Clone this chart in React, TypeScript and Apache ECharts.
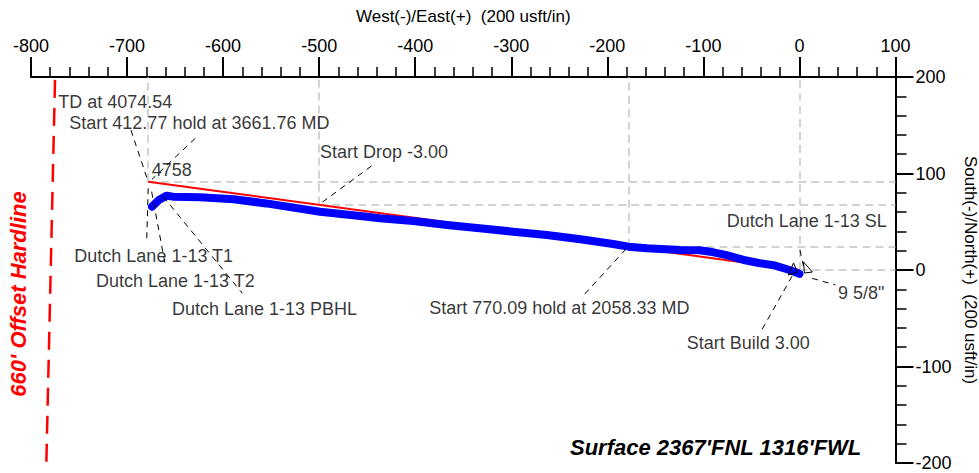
import React, { useEffect, useRef } from "react";
import * as echarts from "echarts";

const FONT = '"Liberation Sans", Arial, Helvetica, sans-serif';

// Plan (red) line: surface to TD
const planX = [0, -678];
const planY = [0, 91.5];

// Actual survey (blue) line
const surveyX = [0, -6, -12, -27, -41, -58, -76, -93, -104, -124, -159, -178, -194, -228, -263, -298, -333, -367, -402, -437, -450, -499, -555, -589, -624, -652, -659, -667, -674];
const surveyY = [-4, -1.5, 0.5, 5, 7, 10.4, 15.5, 19, 20.5, 20.7, 22.5, 24.2, 26.9, 31.8, 36.3, 39.7, 43.2, 46.6, 50.8, 53.6, 55.2, 60.4, 69, 73.3, 75.3, 76, 77, 72.5, 65.6];

// Key points projected (gray dashed) to the top and right axes
const projX = [-678, -500, -178, 0];
const projY = [91.5, 68, 24, 0];

// 660' offset hardline (red dashed)
const hardlineX = [-775, -784];
const hardlineY = [197, -199];

// Annotation texts and their anchor (left, middle) in data units
const labelTexts = [
  "TD at 4074.54",
  "Start 412.77 hold at 3661.76 MD",
  "4758",
  "Start Drop -3.00",
  "Dutch Lane 1-13 T1",
  "Dutch Lane 1-13 T2",
  "Dutch Lane 1-13 PBHL",
  "Start 770.09 hold at 2058.33 MD",
  "Start Build 3.00",
  "9 5/8\"",
  "Dutch Lane 1-13 SL",
];
const labelX = [-771.6, -760.1, -674.3, -499.1, -754.9, -732.3, -653.2, -385.4, -117.4, 40.1, -75.8];
const labelY = [174.4, 152.6, 103.6, 122.6, 14.5, -11.1, -40.7, -39.7, -75.6, -24.1, 51.1];

// Leader lines (start x, start y, end x, end y), data units
const leaderX1 = [-696, -629, -678, -674.4, -662.3, -445.5, -223.5, -38.8, 13.2, 0.5];
const leaderY1 = [145, 136.5, 84.7, 81.1, 76, 107.8, -24.9, -61.5, -8.6, 20.7];
const leaderX2 = [-678, -674, -679.6, -660.6, -580, -499.3, -178.4, -7.6, 37.5, 4.2];
const leaderY2 = [91.5, 94, 28.3, 7.3, -24.1, 68.4, 24.1, -6.2, -15.5, 4.1];

// Small target triangles near the surface location
const tri1X = [-11.4, -6.2, -2.1, -11.4];
const tri1Y = [-5.2, 7.3, -2.1, -5.2];
const tri2X = [4.2, 13.5, 5.2, 4.2];
const tri2Y = [8.3, -2.1, -3.1, 8.3];

const xName = "West(-)/East(+)  (200 usft/in)";
const yName = "South(-)/North(+)  (200 usft/in)";
const hardlineLabel = "660' Offset Hardline";
const surfaceLabel = "Surface 2367'FNL 1316'FWL";

const zip = (xs: number[], ys: number[]) => xs.map((x, i) => [x, ys[i]]);

export default function App() {
  const ref = useRef<HTMLDivElement>(null);

  useEffect(() => {
    if (!ref.current) return;
    const chart = echarts.init(ref.current, undefined, { renderer: "svg" });

    const projSegments: number[][][] = [];
    projX.forEach((x, i) => {
      projSegments.push([[x, projY[i]], [x, 200]]);
      projSegments.push([[x, projY[i]], [100, projY[i]]]);
    });
    const leaderSegments = leaderX1.map((x, i) => [
      [x, leaderY1[i]],
      [leaderX2[i], leaderY2[i]],
    ]);

    const option: any = {
      animation: false,
      backgroundColor: "#ffffff",
      textStyle: { fontFamily: FONT },
      grid: {
        left: 31,
        right: 83.5,
        top: 77,
        bottom: 10,
        containLabel: false,
        outerBoundsMode: "none",
      },
      xAxis: {
        type: "value",
        position: "top",
        min: -800,
        max: 100,
        interval: 100,
        name: xName,
        nameLocation: "middle",
        nameGap: 52,
        nameTextStyle: { fontSize: 17, color: "#000", fontFamily: FONT },
        axisLine: { show: true, onZero: false, lineStyle: { color: "#000", width: 2 } },
        axisTick: { show: true, inside: false, length: 20, lineStyle: { color: "#000", width: 2 } },
        minorTick: { show: true, splitNumber: 5, length: 10, lineStyle: { color: "#000", width: 1.5 } },
        axisLabel: { fontSize: 18, color: "#000", margin: 22, fontFamily: FONT },
        splitLine: { show: false },
        minorSplitLine: { show: false },
      },
      yAxis: {
        type: "value",
        position: "right",
        min: -200,
        max: 200,
        interval: 100,
        name: yName,
        nameLocation: "middle",
        nameGap: 66,
        nameRotate: -90,
        nameTextStyle: { fontSize: 17, color: "#000", fontFamily: FONT },
        axisLine: { show: true, onZero: false, lineStyle: { color: "#000", width: 2 } },
        axisTick: { show: true, inside: false, length: 18, lineStyle: { color: "#000", width: 2 } },
        minorTick: { show: true, splitNumber: 5, length: 11, lineStyle: { color: "#000", width: 1.5 } },
        axisLabel: { fontSize: 18, color: "#000", margin: 20, fontFamily: FONT },
        splitLine: { show: false },
        minorSplitLine: { show: false },
      },
      series: [
        {
          type: "lines",
          coordinateSystem: "cartesian2d",
          silent: true,
          z: 1,
          data: projSegments.map((c) => ({ coords: c })),
          lineStyle: { color: "#c4c4c4", width: 1.5, type: [8, 5], opacity: 1, curveness: 0 },
        },
        {
          type: "lines",
          coordinateSystem: "cartesian2d",
          silent: true,
          z: 2,
          data: [{ coords: zip(hardlineX, hardlineY) }],
          lineStyle: { color: "#ff0000", width: 2.5, type: [18, 10], opacity: 1, curveness: 0 },
        },
        {
          type: "line",
          silent: true,
          z: 3,
          showSymbol: false,
          symbol: "none",
          data: zip(planX, planY),
          lineStyle: { color: "#ff0000", width: 2 },
        },
        {
          type: "line",
          silent: true,
          z: 4,
          showSymbol: false,
          symbol: "none",
          data: zip(surveyX, surveyY),
          lineStyle: { color: "#0000ff", width: 8, cap: "round", join: "round" },
        },
        {
          type: "lines",
          coordinateSystem: "cartesian2d",
          silent: true,
          z: 5,
          data: leaderSegments.map((c) => ({ coords: c })),
          lineStyle: { color: "#000", width: 1, type: [6, 5], opacity: 1, curveness: 0 },
        },
        {
          type: "lines",
          coordinateSystem: "cartesian2d",
          polyline: true,
          silent: true,
          z: 5,
          data: [{ coords: zip(tri1X, tri1Y) }, { coords: zip(tri2X, tri2Y) }],
          lineStyle: { color: "#000", width: 1, opacity: 1 },
        },
        {
          type: "scatter",
          silent: true,
          z: 10,
          symbolSize: 0,
          itemStyle: { color: "transparent" },
          data: labelTexts.map((t, i) => ({ name: t, value: [labelX[i], labelY[i]] })),
          label: {
            show: true,
            position: "right",
            distance: 0,
            formatter: "{b}",
            fontSize: 18,
            color: "#000",
            fontFamily: FONT,
          },
        },
      ],
      graphic: [
        {
          type: "text",
          x: 18,
          y: 294,
          rotation: Math.PI / 2,
          silent: true,
          style: {
            text: hardlineLabel,
            fill: "#ff0000",
            fontSize: 22,
            fontWeight: "bold",
            fontStyle: "italic",
            fontFamily: FONT,
            align: "center",
            verticalAlign: "middle",
          },
        },
        {
          type: "text",
          x: 570,
          y: 447,
          silent: true,
          style: {
            text: surfaceLabel,
            fill: "#000",
            fontSize: 22,
            fontWeight: "bold",
            fontStyle: "italic",
            fontFamily: FONT,
            align: "left",
            verticalAlign: "middle",
          },
        },
      ],
    };

    chart.setOption(option);
    return () => chart.dispose();
  }, []);

  return (
    <div
      ref={ref}
      style={{ position: "absolute", left: 0, top: 0, width: 979, height: 473 }}
    />
  );
}
